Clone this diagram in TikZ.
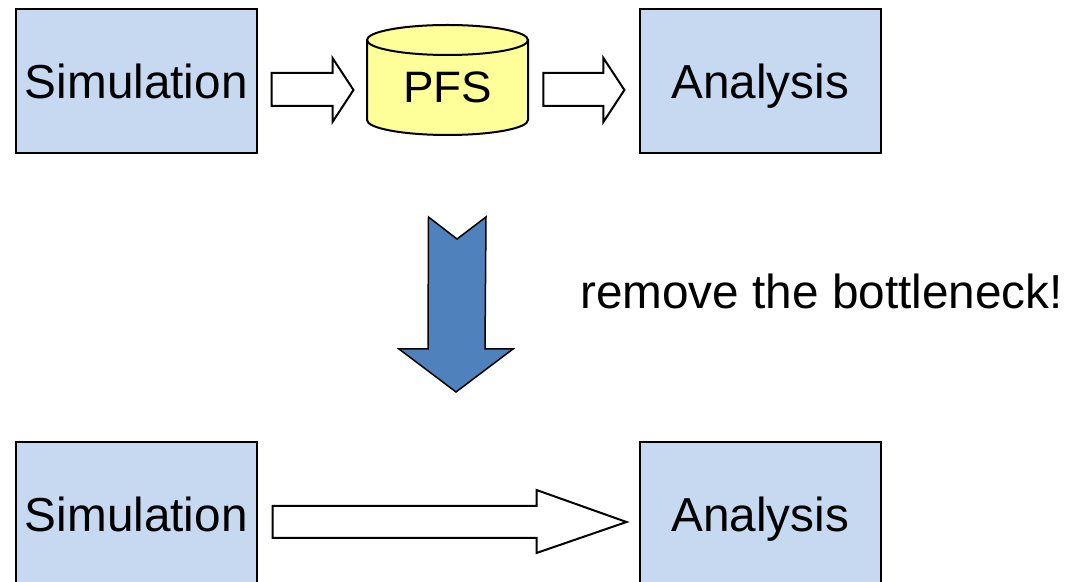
\documentclass[tikz,border=0pt]{standalone}
\usepackage{fontspec}
\setmainfont{Liberation Sans}
\usetikzlibrary{calc}
\definecolor{boxblue}{HTML}{C6D9F1}
\definecolor{dbyellow}{HTML}{FFFF99}
\definecolor{arrowblue}{HTML}{4F81BD}
\tikzset{
  stage/.style={draw=black, line width=1pt, fill=boxblue, minimum width=120.25pt, minimum height=72pt, inner sep=0pt, text height=17pt, text depth=0pt, font=\fontsize{23.85}{28}\selectfont},
  hollow/.style={draw=black, line width=1pt, fill=white, line join=miter},
}
\begin{document}
\begin{tikzpicture}[x=0.5pt, y=-0.5pt]
\useasboundingbox (0,0) rectangle (1066,582);
% top row
\node[stage] (sim1) at (136.25,81.5) {Simulation};
\node[stage] (ana1) at (760.25,81.5) {Analysis};
\filldraw[fill=dbyellow, line width=1pt] (367,40) -- (367,120) arc[start angle=180, end angle=0, x radius=80.5, y radius=15] -- (528,40) -- cycle;
\filldraw[fill=dbyellow, line width=1pt] (447.5,40) ellipse [x radius=80.5, y radius=15];
\node[inner sep=0pt, minimum width=80.5pt, minimum height=55pt, font=\fontsize{22}{26}\selectfont] (pfs) at (447.5,87) {\scalebox{1.04}[1]{PFS}};
\draw[hollow] ($(sim1.east)+(14,-8.5)$) -- ++(61,0) -- ++(0,-15) -- ++(21,32) -- ++(-21,32) -- ++(0,-16) -- ++(-61,0) -- cycle;
\draw[hollow] ($(pfs.east)+(15,-14)$) -- ++(60,0) -- ++(0,-15) -- ++(21,32) -- ++(-21,32) -- ++(0,-16) -- ++(-60,0) -- cycle;
% the change
\filldraw[fill=arrowblue, draw=black, line width=0.75pt] (428.5,217) -- (457,239) -- (486,217) -- (485,349) -- (513,349) -- (456,392) -- (399,349) -- (428,349) -- cycle;
\node[anchor=base, font=\fontsize{23.85}{28}\selectfont] (hint) at (821.5,309) {remove the bottleneck!};
% bottom row
\node[stage] (sim2) at (136.25,514) {Simulation};
\node[stage] (ana2) at (760.25,514) {Analysis};
\draw[hollow] ($(sim2.east)+(15,-8)$) -- ++(264,0) -- ++(0,-16) -- ++(90,32) -- ++(-90,31) -- ++(0,-15) -- ++(-264,0) -- cycle;
\end{tikzpicture}
\end{document}
